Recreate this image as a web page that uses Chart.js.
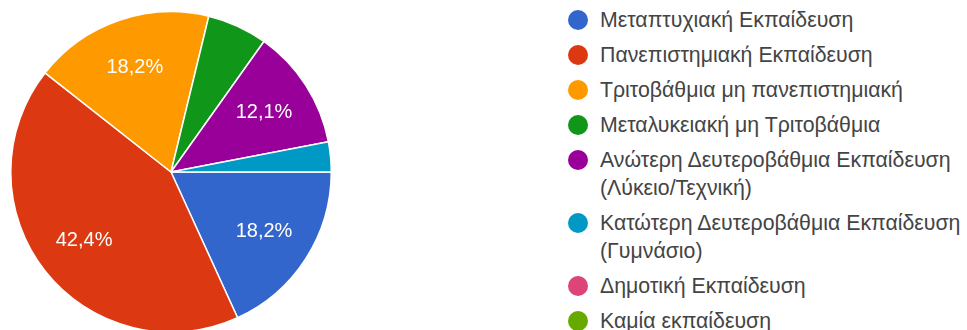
<!DOCTYPE html>
<html lang="el">
<head>
<meta charset="utf-8">
<title>Εκπαίδευση</title>
<script src="https://cdn.jsdelivr.net/npm/chart.js@4/dist/chart.umd.min.js"></script>
<style>
    html, body {
        margin: 0;
        padding: 0;
        background: #fff;
        overflow: hidden;
    }
    #wrap {
        position: relative;
        width: 967px;
        height: 330px;
    }
    #pieBox {
        position: absolute;
        left: 10px;
        top: 11px;
        width: 322px;
        height: 322px;
    }
    #legend {
        position: absolute;
        left: 568px;
        top: 6px;
        width: 399px;
        margin: 0;
        padding: 0;
        list-style: none;
        font-family: "Liberation Sans", Arial, sans-serif;
        font-size: 21.3px;
        color: #444;
    }
    #legend li {
        position: relative;
        padding-left: 32px;
        line-height: 28px;
        margin-bottom: 7px;
    }
    #legend li span {
        position: absolute;
        left: 0;
        top: 4px;
        width: 20px;
        height: 20px;
        border-radius: 50%;
    }
</style>
</head>
<body>
<div id="wrap">
    <div id="pieBox"><canvas id="educationChart"></canvas></div>
    <ul id="legend"></ul>
</div>
<script>
const labels = [
    "Μεταπτυχιακή Εκπαίδευση",
    "Πανεπιστημιακή Εκπαίδευση",
    "Τριτοβάθμια μη πανεπιστημιακή",
    "Μεταλυκειακή μη Τριτοβάθμια",
    "Ανώτερη Δευτεροβάθμια Εκπαίδευση (Λύκειο/Τεχνική)",
    "Κατώτερη Δευτεροβάθμια Εκπαίδευση (Γυμνάσιο)",
    "Δημοτική Εκπαίδευση",
    "Καμία εκπαίδευση",
];
const responses = [6, 14, 6, 2, 4, 1, 0, 0];
const colors = [
    "#3366cc",
    "#dc3912",
    "#ff9900",
    "#109618",
    "#990099",
    "#0099c6",
    "#dd4477",
    "#66aa00",
];

/**
 * Percentage labels inside the larger slices
 */
const sliceLabels = {
    id: "sliceLabels",
    afterDatasetsDraw(chart) {
        const ctx = chart.ctx;
        const data = chart.data.datasets[0].data;
        const total = data.reduce((a, b) => a + b, 0);
        const meta = chart.getDatasetMeta(0);

        ctx.save();
        ctx.fillStyle = "#fff";
        ctx.font = '20px "Liberation Sans", Arial, sans-serif';
        ctx.textAlign = "center";
        ctx.textBaseline = "middle";
        meta.data.forEach((arc, i) => {
            const pct = (data[i] / total) * 100;
            if (pct < 10) return;
            const { x, y, startAngle, endAngle, outerRadius } = arc.getProps(
                ["x", "y", "startAngle", "endAngle", "outerRadius"],
                true
            );
            const mid = (startAngle + endAngle) / 2;
            const r = outerRadius * 0.69;
            ctx.fillText(
                pct.toFixed(1).replace(".", ",") + "%",
                x + Math.cos(mid) * r,
                y + Math.sin(mid) * r
            );
        });
        ctx.restore();
    },
};

const chart = new Chart(document.getElementById("educationChart"), {
    type: "pie",
    data: {
        labels,
        datasets: [
            {
                data: responses,
                backgroundColor: colors,
                borderColor: "#fff",
                borderWidth: 1.5,
            },
        ],
    },
    options: {
        responsive: true,
        maintainAspectRatio: false,
        animation: false,
        rotation: 90,
        layout: { padding: 0 },
        plugins: {
            legend: { display: false },
            tooltip: { enabled: false },
        },
    },
    plugins: [sliceLabels],
});

// legend on the right, built from the chart's own data
const legendEl = document.getElementById("legend");
chart.data.labels.forEach((label, i) => {
    const li = document.createElement("li");
    const dot = document.createElement("span");
    dot.style.background = chart.data.datasets[0].backgroundColor[i];
    li.appendChild(dot);
    li.appendChild(document.createTextNode(label));
    legendEl.appendChild(li);
});
</script>
</body>
</html>
